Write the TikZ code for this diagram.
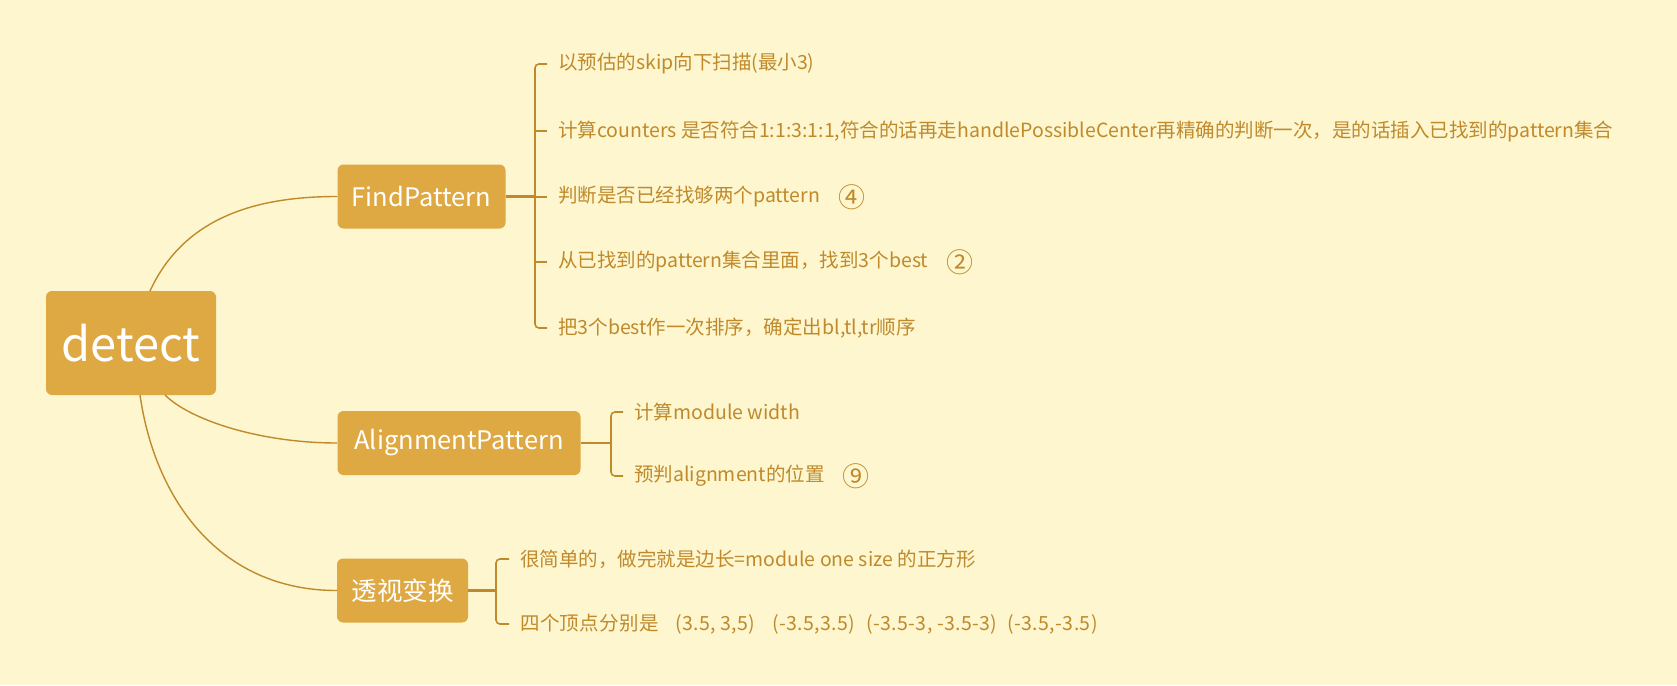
\documentclass[tikz,border=0pt]{standalone}
\usepackage{fontspec}
\setmainfont{Noto Sans CJK SC}
\usetikzlibrary{positioning}

\definecolor{bgcream}{HTML}{FDF6CE}
\definecolor{topicgold}{HTML}{DEA942}
\definecolor{inkgold}{HTML}{C08A2C}

\tikzset{
  topic/.style={fill=topicgold, rounded corners=6pt, text=white, inner sep=0pt,
    minimum height=64pt, font=\fontsize{25.5}{30}\selectfont},
  leaf/.style={anchor=west, text=inkgold, inner sep=0pt, font=\fontsize{19.5}{24}\selectfont},
  marker/.style={text=inkgold, inner sep=0pt, font=\fontsize{27}{30}\selectfont},
  branch/.style={draw=inkgold, line width=1.4pt},
  stem/.style={draw=inkgold, line width=2.4pt},
  brace/.style={draw=inkgold, line width=1.6pt, rounded corners=4pt},
}

\begin{document}
\begin{tikzpicture}[x=1pt, y=-1pt]

  \fill[bgcream] (0,0) rectangle (1677,685);
  \useasboundingbox (0,0) rectangle (1677,685);

  % main topics
  \node[topic, minimum width=170pt, minimum height=104pt,
        font=\fontsize{47}{50}\selectfont] (detect) at (131,343) {detect};
  \node[topic, minimum width=168pt] (fp) at (421.5,196.5) {FindPattern};
  \node[topic, minimum width=243pt] (ap) at (459,443) {AlignmentPattern};
  \node[topic, minimum width=131pt] (pt) at (402.5,590.5) {透视变换};

  % FindPattern
  \node[leaf] (f1) at (558,64) {以预估的skip向下扫描(最小3)};
  \node[leaf] (f2) at (558,131) {计算counters 是否符合1:1:3:1:1,符合的话再走handlePossibleCenter再精确的判断一次，是的话插入已找到的pattern集合};
  \node[leaf] (f3) at (558,197) {判断是否已经找够两个pattern};
  \node[leaf] (f4) at (558,262) {从已找到的pattern集合里面，找到3个best};
  \node[leaf] (f5) at (558,328) {把3个best作一次排序，确定出bl,tl,tr顺序};
  \node[marker, right=18pt of f3] (m4) {④};
  \node[marker, right=18pt of f4] (m2) {②};

  % AlignmentPattern
  \node[leaf] (a1) at (634,412) {计算module width};
  \node[leaf] (a2) at (634,476) {预判alignment的位置};
  \node[marker, right=18pt of a2] (m9) {⑨};

  % perspective transform
  \node[leaf] (p1) at (520,559) {很简单的，做完就是边长=module one size 的正方形};
  \node[leaf] (p2) at (520,624) {\addfontfeature{LetterSpace=2}四个顶点分别是\hspace{16pt}(3.5, 3,5)\hspace{17pt}(-3.5,3.5)\hspace{11pt}(-3.5-3, -3.5-3)\hspace{10pt}(-3.5,-3.5)};

  % curves from the root
  \draw[branch] (150,291) .. controls (185,215) and (260,196.5) .. (fp.west);
  \draw[branch] (165,395) .. controls (190,420) and (260,443) .. (ap.west);
  \draw[branch] (140,395) .. controls (155,500) and (220,590.5) .. (pt.west);

  % brackets
  \coordinate (fpb) at (535,196.5);
  \coordinate (apb) at (611,443);
  \coordinate (ptb) at (496,590.5);

  \draw[stem] (fp.east) -- (fpb);
  \draw[brace] ([xshift=-11pt]f1.west) -| (fpb |- f5.west) -- ([xshift=-11pt]f5.west);
  \foreach \n in {f2,f3,f4}
    \draw[branch, line width=1.6pt] (fpb |- \n.west) -- ([xshift=-11pt]\n.west);

  \draw[stem] (ap.east) -- (apb);
  \draw[brace] ([xshift=-11pt]a1.west) -| (apb |- a2.west) -- ([xshift=-11pt]a2.west);

  \draw[stem] (pt.east) -- (ptb);
  \draw[brace] ([xshift=-11pt]p1.west) -| (ptb |- p2.west) -- ([xshift=-11pt]p2.west);

\end{tikzpicture}
\end{document}
